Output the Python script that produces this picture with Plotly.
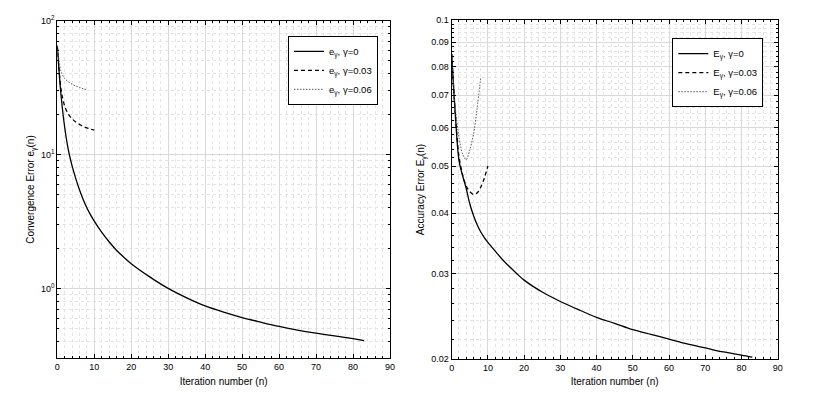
import numpy as np
import plotly.graph_objects as go

# convergence error e_gamma(n), left panel
n_g0 = [0, 1, 2, 3, 4, 5, 6, 7, 8, 9, 10, 12, 14, 16, 18, 20, 25, 30, 35, 40,
        45, 50, 55, 60, 65, 70, 75, 80, 83]
e_g0 = [65, 28, 16, 10.8, 8.22, 6.61, 5.46, 4.62, 4.01, 3.54, 3.18, 2.63, 2.23, 1.93,
        1.71, 1.53, 1.22, 1.0, 0.85, 0.74, 0.665, 0.606, 0.56, 0.52, 0.488, 0.463,
        0.442, 0.421, 0.408]
n_g003 = [0, 1, 2, 3, 4, 5, 6, 7, 8, 9, 10]
e_g003 = [65, 31, 23, 20, 18.5, 17.5, 16.8, 16.2, 15.8, 15.5, 15.2]
n_g006 = [0, 1, 2, 3, 4, 5, 6, 7, 8]
e_g006 = [65, 42, 37, 35, 33.5, 32.5, 31.8, 31, 30.5]

# accuracy error E_gamma(n), right panel
E_g0 = [0.085, 0.064, 0.0515, 0.0478, 0.045, 0.0418, 0.0396, 0.0379, 0.0366,
        0.0356, 0.0348, 0.0334, 0.0321, 0.031, 0.03, 0.0291, 0.0275, 0.0263,
        0.0253, 0.0244, 0.0237, 0.023, 0.0225, 0.022, 0.0215, 0.0211, 0.0207,
        0.0204, 0.0202]
E_g003 = [0.085, 0.064, 0.0525, 0.048, 0.0455, 0.0443, 0.0437, 0.044, 0.0452,
          0.0472, 0.05]
E_g006 = [0.085, 0.066, 0.0575, 0.053, 0.0515, 0.054, 0.058, 0.0655, 0.076]

left_ticks = [1, 10, 100]
left_ticktext = ["10<sup>0</sup>", "10<sup>1</sup>", "10<sup>2</sup>"]
right_ticks = [0.02, 0.03, 0.04, 0.05, 0.06, 0.07, 0.08, 0.09, 0.1]
right_ticktext = ["0.02", "0.03", "0.04", "0.05", "0.06", "0.07", "0.08", "0.09", "0.1"]

font = "Liberation Sans, Arial, sans-serif"
major_grid = "#d9d9d9"
minor_grid = "#e4e4e4"

fig = go.Figure()

styles = [("solid", 1.3, "black"), ("4px,3px", 1.3, "black"), ("1.5px,1.5px", 1.0, "#555555")]
left_sets = [(n_g0, e_g0, "0"), (n_g003, e_g003, "0.03"), (n_g006, e_g006, "0.06")]
right_sets = [(n_g0, E_g0, "0"), (n_g003, E_g003, "0.03"), (n_g006, E_g006, "0.06")]

for (xs, ys, g), (dash, w, c) in zip(left_sets, styles):
    fig.add_trace(go.Scatter(x=xs, y=ys, mode="lines",
                             line=dict(color=c, width=w, dash=dash, shape="spline", smoothing=0.9),
                             name=f"e<sub>γ</sub>, γ={g}", xaxis="x", yaxis="y", legend="legend"))
for (xs, ys, g), (dash, w, c) in zip(right_sets, styles):
    fig.add_trace(go.Scatter(x=xs, y=ys, mode="lines",
                             line=dict(color=c, width=w, dash=dash, shape="spline", smoothing=0.9),
                             name=f"E<sub>γ</sub>, γ={g}", xaxis="x2", yaxis="y2", legend="legend2"))

# minor grid positions
left_minor = [m * 10.0 ** k for k in (-1, 0, 1) for m in range(2, 10) if m * 10.0 ** k >= 0.3]
right_minor = [round(v, 3) for v in np.arange(0.022, 0.1, 0.002) if round(v, 3) not in right_ticks]

axis_common = dict(showline=True, linecolor="black", linewidth=1, mirror="allticks",
                   ticks="inside", ticklen=4, tickcolor="black", gridcolor=major_grid,
                   zeroline=False, automargin=False, tickfont=dict(size=9, color="black"),
                   title_font=dict(size=10, color="black"))

xminor = dict(dtick=2, tick0=0, showgrid=True, gridcolor=minor_grid, griddash="dot",
              ticks="inside", ticklen=2, tickcolor="black")

fig.update_layout(
    width=815, height=398,
    margin=dict(l=0, r=0, t=0, b=0),
    paper_bgcolor="white", plot_bgcolor="white",
    font=dict(family=font, size=9, color="black"),
    showlegend=True,
    xaxis=dict(domain=[0.0703, 0.4785], range=[0, 90], dtick=10, anchor="y",
               title=dict(text="Iteration number (n)", standoff=6), minor=xminor, **axis_common),
    yaxis=dict(domain=[0.0995, 0.948], type="log", range=[np.log10(0.3), 2], anchor="x",
               tickvals=left_ticks, ticktext=left_ticktext,
               title=dict(text="Convergence Error e<sub>γ</sub>(n)", standoff=4),
               minor=dict(tickmode="array", tickvals=left_minor, showgrid=True,
                          gridcolor=minor_grid, griddash="dot", ticks="inside",
                          ticklen=2, tickcolor="black"),
               **axis_common),
    xaxis2=dict(domain=[0.5542, 0.9542], range=[0, 90], dtick=10, anchor="y2",
                title=dict(text="Iteration number (n)", standoff=6), minor=xminor, **axis_common),
    yaxis2=dict(domain=[0.0975, 0.95], type="log", range=[np.log10(0.02), -1], anchor="x2",
                tickvals=right_ticks, ticktext=right_ticktext,
                title=dict(text="Accuracy Error E<sub>γ</sub>(n)", standoff=4),
                minor=dict(tickmode="array", tickvals=right_minor, showgrid=True,
                           gridcolor=minor_grid, griddash="dot", ticks="inside",
                           ticklen=2, tickcolor="black"),
                **axis_common),
    legend=dict(x=0.4638, y=0.91, xanchor="right", yanchor="top", bgcolor="white",
                bordercolor="black", borderwidth=1, font=dict(size=9.5),
                itemwidth=30, tracegroupgap=0),
    legend2=dict(x=0.9366, y=0.904, xanchor="right", yanchor="top", bgcolor="white",
                 bordercolor="black", borderwidth=1, font=dict(size=9.5),
                 itemwidth=30, tracegroupgap=0),
)

# drop the page's default 8px body margin so the figure sits at the window origin
fig.write_html("out.html", config={"displayModeBar": False},
               post_script="document.body.style.margin='0px';")
